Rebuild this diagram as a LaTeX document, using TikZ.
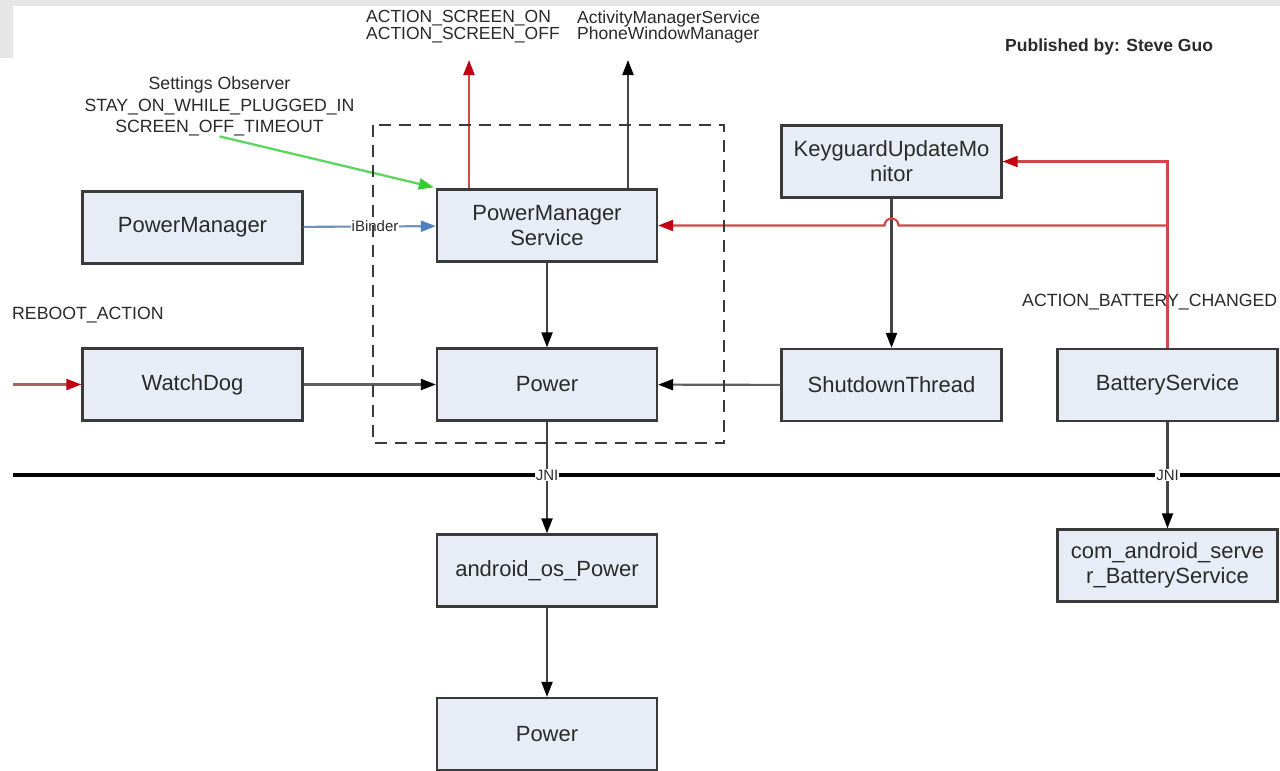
\documentclass[tikz,border=0pt]{standalone}
\usepackage{fontspec}
\setmainfont{Liberation Sans}
\usetikzlibrary{arrows.meta,calc}
\definecolor{boxfill}{HTML}{E8ECF6}
\definecolor{boxdraw}{HTML}{3A3A3A}
\definecolor{txt}{HTML}{2A2A2A}
\definecolor{linegray}{HTML}{444444}
\definecolor{redline}{HTML}{D04848}
\definecolor{redhead}{HTML}{C00010}
\definecolor{blueline}{HTML}{6F92BA}
\definecolor{bluehead}{HTML}{4F81BD}
\definecolor{greenline}{HTML}{5CD65C}
\definecolor{greenhead}{HTML}{33CC33}
\definecolor{wmgray}{HTML}{E6E6E6}
\begin{document}
\begin{tikzpicture}[x=1pt,y=-1pt,
  box/.style={draw=boxdraw, line width=2.3pt, fill=boxfill, minimum width=220pt,
    minimum height=72pt, inner sep=0pt, align=center, text=txt,
    font=\fontsize{22}{25}\selectfont},
  lbl/.style={inner sep=0pt, align=center, text=txt, font=\fontsize{17.7}{21.5}\selectfont},
  toplbl/.style={inner sep=0pt, align=left, text=txt, font=\fontsize{17.5}{16.8}\selectfont},
  small/.style={inner sep=1pt, fill=white, text=txt, font=\fontsize{15}{15}\selectfont},
  conn/.style={draw=linegray, line width=2.1pt, -{Triangle[length=15pt,width=11pt,color=black,fill=black]}},
  redconn/.style={draw=redline, line width=2.1pt, -{Triangle[length=15pt,width=11pt,color=redhead,fill=redhead]}},
  blueconn/.style={draw=blueline, line width=2.1pt, -{Triangle[length=15pt,width=11pt,color=bluehead,fill=bluehead]}},
  greenconn/.style={draw=greenline, line width=2.3pt, -{Triangle[length=15pt,width=11pt,color=greenhead,fill=greenhead]}},
  group/.style={draw=boxdraw, line width=2.2pt, dash pattern=on 12pt off 8pt}
]
\useasboundingbox (0,0) rectangle (1280,771);
\fill[white] (0,0) rectangle (1280,771);
\fill[wmgray] (0,0) rectangle (1280,6);
\fill[wmgray] (0,0) rectangle (13,58);

% boxes
\node[box] (pm)  at (192.5,227.5) {PowerManager};
\node[box] (pms) at (547,225.5) {PowerManager\\Service};
\node[box] (kum) at (891.5,161.5) {KeyguardUpdateMo\\nitor};
\node[box] (wd)  at (192.5,384.5) {WatchDog};
\node[box] (pw)  at (547,384.5) {Power};
\node[box] (st)  at (891.5,385) {ShutdownThread};
\node[box] (bs)  at (1167.5,385) {BatteryService};
\node[box] (aop) at (547,570.5) {android\_os\_Power};
\node[box] (pwb) at (547,734) {Power};
\node[box] (cab) at (1167.5,565.5) {com\_android\_serve\\r\_BatteryService};

% labels
\node[toplbl, anchor=west] (scr) at (366,27) {ACTION\_SCREEN\_ON\\ACTION\_SCREEN\_OFF};
\node[toplbl, anchor=west] (ams) at (577,27) {ActivityManagerService\\PhoneWindowManager};
\node[lbl, anchor=west, font=\bfseries\fontsize{17.5}{20}\selectfont] (pub) at (1005,47) {Published by: Steve Guo};
\node[lbl] (so) at (219.5,106.5) {Settings Observer\\STAY\_ON\_WHILE\_PLUGGED\_IN\\SCREEN\_OFF\_TIMEOUT};
\node[lbl, anchor=west] (rba) at (12,315.5) {REBOOT\_ACTION};
\node[lbl, anchor=west] (abc) at (1022,302) {ACTION\_BATTERY\_CHANGED};

% coordinates for free ends
\coordinate (t1) at (469,60);
\coordinate (t2) at (628,60);
\coordinate (rb) at (13,384.5);
\coordinate (jl) at (13,475);
\coordinate (jr) at (1280,475);
\coordinate (br) at (bs.north |- pms.east);
\coordinate (hop) at (kum.south |- pms.east);

% JNI separator
\draw[black, line width=4.5pt] (jl) -- (jr);

% connectors
\draw[redconn] (pms.north -| t1) -- (t1);
\draw[conn] (pms.north -| t2) -- (t2);
\draw[greenconn] (so.south) -- ([shift={(-2,-1)}]pms.north west);
\draw[blueconn] (pm) -- node[small, pos=0.54] (ib) {iBinder} (pms);
\draw[conn] (pms) -- (pw);
\draw[conn] (kum) -- (st);
\draw[redconn] (bs.north) |- (kum.east);
\draw[redconn] (br) -- ([xshift=7pt]hop) arc[start angle=0, end angle=180, radius=7pt] -- (pms.east);
\draw[redconn, draw=redline!60!gray] (rb) -- (wd.west);
\draw[conn, draw=linegray!85!white] (wd) -- (pw);
\draw[conn, draw=linegray!85!white] (st) -- (pw);
\draw[conn] (pw) -- (aop);
\draw[conn] (aop) -- (pwb);
\draw[conn] (bs) -- (cab);
\node[small] (jni1) at (pw.south |- jl) {JNI};
\node[small] (jni2) at (bs.south |- jl) {JNI};

% dashed group
\draw[group] (373,125) rectangle (724,443);
\end{tikzpicture}
\end{document}
